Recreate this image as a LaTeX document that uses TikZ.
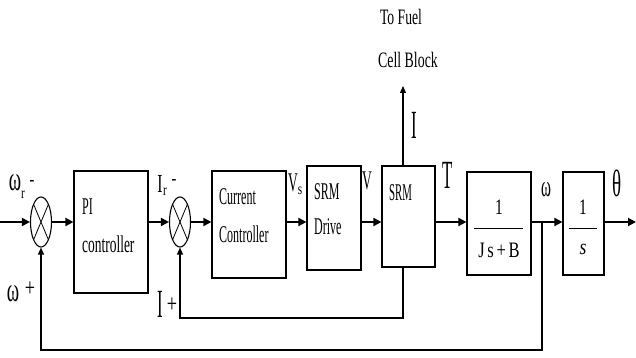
\documentclass[tikz,border=0pt]{standalone}
\usepackage{fontspec}
\setmainfont{Liberation Serif}
\usetikzlibrary{arrows.meta,shapes.geometric,calc}
\newcommand\lb[3]{\fontsize{#1}{#1}\selectfont\scalebox{#2}[1]{#3}}
\begin{document}
\begin{tikzpicture}[x=1pt,y=-1pt,
  blk/.style={draw,line width=1.2pt,inner sep=0},
  sig/.style={line width=1.8pt,-{Triangle[length=8pt,width=8pt]}},
  fb/.style={line width=1.2pt,-{Triangle[length=7pt,width=6pt]}},
  summer/.style={draw,ellipse,line width=1.1pt,minimum width=21pt,minimum height=50pt,inner sep=0},
  lbl/.style={inner sep=0}]
\useasboundingbox[fill=white] (0,0) rectangle (636,358);
% blocks
\node[summer] (s1) at (41,222) {};
\node[summer] (s2) at (180,222) {};
\foreach \s in {s1,s2}{
  \draw[line width=0.8pt] ($(\s.center)+(-7.4,-17.7)$) -- ($(\s.center)+(7.4,17.7)$);
  \draw[line width=0.8pt] ($(\s.center)+(-7.4,17.7)$) -- ($(\s.center)+(7.4,-17.7)$);
}
\node[blk,minimum width=74pt,minimum height=122pt] (pi) at (111,232) {};
\node[blk,minimum width=74pt,minimum height=107pt] (cc) at (249,224.5) {};
\node[blk,minimum width=54pt,minimum height=104pt] (drv) at (334,218) {};
\node[blk,minimum width=53pt,minimum height=101pt] (srm) at (408.5,216.5) {};
\node[blk,minimum width=64pt,minimum height=103pt] (jsb) at (499,223.5) {};
\node[blk,minimum width=41pt,minimum height=103pt] (ints) at (583.5,223.5) {};
% box texts
\node[lbl,anchor=west] (t1) at (82,207) {\lb{24}{0.5}{PI}};
\node[lbl,anchor=west] (t2) at (82,244) {\lb{24}{0.56}{controller}};
\node[lbl,anchor=west] (t3) at (219,197) {\lb{24}{0.5}{Current}};
\node[lbl,anchor=west] (t4) at (219,234) {\lb{24}{0.5}{Controller}};
\node[lbl,anchor=west] (t5) at (314,192) {\lb{24}{0.5}{SRM}};
\node[lbl,anchor=west] (t6) at (314,227) {\lb{24}{0.5}{Drive}};
\node[lbl,anchor=west] (t7) at (389,193) {\lb{24}{0.45}{SRM}};
\node[lbl] (t8) at (499,207) {\lb{22}{0.7}{1}};
\draw[line width=1pt] (474,228) -- (523,228);
\node[lbl] (t9) at (499,250) {\lb{22}{0.75}{J\,s\,+\,B}};
\node[lbl] (t10) at (583,207) {\lb{22}{0.7}{1}};
\draw[line width=1pt] (569,228) -- (597,228);
\node[lbl] (t11) at (583,249) {\lb{22}{0.8}{\itshape s}};
% coordinates
\coordinate (in) at (0,222);
\coordinate (out) at (636,222);
\coordinate (br) at (542,222);
\coordinate (iup) at (403,86);
\coordinate (c1) at (403,318);
\coordinate (c2) at (542,350);
% main path
\draw[sig] (in) -- (s1.west);
\draw[sig] (s1.east) -- (s1.east -| pi.west);
\draw[sig] (s1.east -| pi.east) -- (s2.west);
\draw[sig] (s2.east) -- (s2.east -| cc.west);
\draw[sig] (s2.east -| cc.east) -- (s2.east -| drv.west);
\draw[sig] (s2.east -| drv.east) -- (s2.east -| srm.west);
\draw[sig] (s2.east -| srm.east) -- (s2.east -| jsb.west);
\draw[sig] (s2.east -| jsb.east) -- (s2.east -| ints.west);
\draw[sig] (s2.east -| ints.east) -- (out);
% current out and feedbacks
\draw[fb] (iup |- srm.north) -- (iup);
\draw[fb] (iup |- srm.south) -- (c1) -| (s2.south);
\draw[fb] (br) -- (c2) -| (s1.south);
% labels
\node[lbl] (w1) at (15,183) {\lb{34}{0.55}{ω}};
\node[lbl] (w1r) at (23,195) {\lb{16}{0.7}{r}};
\node[lbl] (m1) at (32,183) {\lb{18}{0.8}{\textbf{-}}};
\node[lbl] (w2) at (13,294) {\lb{34}{0.55}{ω}};
\node[lbl] (p2) at (30,289) {\lb{26}{0.7}{+}};
\node[lbl] (ir) at (160,184) {\lb{26}{0.6}{I}};
\node[lbl] (irr) at (165,192) {\lb{16}{0.7}{r}};
\node[lbl] (m2) at (174,182) {\lb{18}{0.8}{\textbf{-}}};
\node[lbl] (ip) at (160,304) {\lb{40}{0.42}{I}};
\node[lbl] (pp) at (172,305) {\lb{26}{0.7}{+}};
\node[lbl] (vs) at (293,183) {\lb{27}{0.5}{V}};
\node[lbl] (vss) at (300,191) {\lb{16}{0.7}{s}};
\node[lbl] (v) at (367,181) {\lb{27}{0.5}{V}};
\node[lbl] (tq) at (448,175) {\lb{40}{0.42}{T}};
\node[lbl] (ii) at (414,125) {\lb{40}{0.42}{I}};
\node[lbl] (om) at (546,190) {\lb{30}{0.5}{ω}};
\node[lbl] (th) at (617,183) {\lb{38}{0.5}{θ}};
\node[lbl] (f1) at (401,17) {\lb{22}{0.62}{To Fuel}};
\node[lbl] (f2) at (408,60) {\lb{22}{0.63}{Cell Block}};
\end{tikzpicture}
\end{document}
